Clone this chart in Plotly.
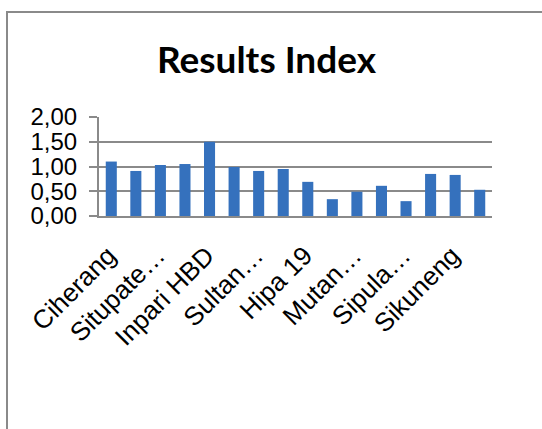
import plotly.graph_objects as go

# Data
positions = list(range(1, 17))
values = [1.10, 0.91, 1.03, 1.05, 1.50, 0.99, 0.91, 0.95, 0.69, 0.34, 0.49, 0.61, 0.30, 0.85, 0.83, 0.53]
tick_positions = [1, 3, 5, 7, 9, 11, 13, 15]
tick_labels = ["Ciherang", "Situpate…", "Inpari HBD", "Sultan…", "Hipa 19", "Mutan…", "Sipula…", "Sikuneng"]
y_ticks = [0, 0.5, 1.0, 1.5, 2.0]

W, H = 542, 429
L, R, T, B = 99, 542 - 492, 117, 429 - 216
pw, ph = W - L - R, H - T - B

def px_x(px):
    return (px - L) / pw

def px_y(py):
    return (H - B - py) / ph

fig = go.Figure()
fig.add_trace(go.Bar(
    x=positions, y=values, width=0.45,
    marker=dict(color="#3571bd", line=dict(width=0)),
    hoverinfo="skip",
))

gray = "#8a8a8a"
fig.update_layout(
    width=W, height=H,
    margin=dict(l=L, r=R, t=T, b=B),
    paper_bgcolor="white", plot_bgcolor="white",
    separators=",.",
    showlegend=False,
    title=dict(text="<b>Results Index</b>", x=266.5 / W, xref="container", xanchor="center",
               y=1 - 60 / H, yref="container", yanchor="middle",
               font=dict(family="Lato", size=37, color="black")),
    font=dict(family="Liberation Sans", color="black"),
    xaxis=dict(range=[0.5, 16.5], tickmode="array", tickvals=tick_positions, ticktext=tick_labels,
               tickangle=-45, tickfont=dict(size=26, family="Liberation Sans", color="black"),
               showline=True, linecolor=gray, linewidth=2, showgrid=False, zeroline=False,
               ticks="outside", ticklen=12, tickcolor="rgba(0,0,0,0)", ticklabelshift=-3),
    yaxis=dict(range=[0, 2], tickmode="array", tickvals=y_ticks, tickformat=".2f",
               tickfont=dict(size=24, family="Liberation Sans", color="black"),
               ticklabelstandoff=7,
               showline=True, linecolor=gray, linewidth=2, showgrid=True, gridcolor=gray, gridwidth=2,
               zeroline=False, ticks="outside", ticklen=8, tickcolor=gray, tickwidth=2),
    shapes=[dict(type="rect", xref="paper", yref="paper",
                 x0=px_x(7), x1=px_x(620), y0=px_y(12), y1=px_y(500),
                 line=dict(color=gray, width=2), fillcolor="rgba(0,0,0,0)", layer="below")],
)

fig.write_html("out.html", config={"displayModeBar": False},
               post_script="document.body.style.margin='0';document.body.style.overflow='hidden';")
